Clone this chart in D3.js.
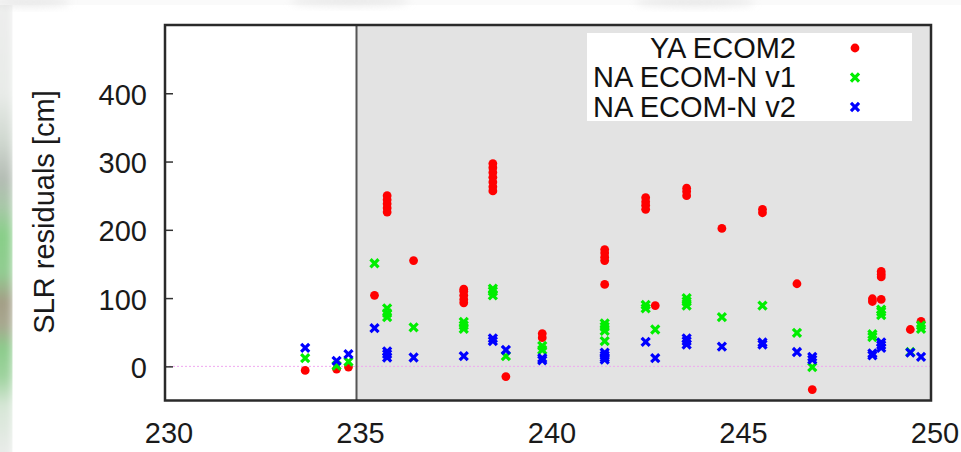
<!DOCTYPE html>
<html>
<head>
<meta charset="utf-8">
<script src="https://cdn.jsdelivr.net/npm/d3@7"></script>
<style>
  html, body { margin: 0; padding: 0; background: #ffffff; }
  svg { display: block; font-family: "Liberation Sans", Arial, Helvetica, sans-serif; }
</style>
</head>
<body>
<svg id="chart" width="961" height="452"></svg>
<script>
// Axis ticks
const xTicks = [230, 235, 240, 245, 250];
const yTicks = [0, 100, 200, 300, 400];

// Series names (legend order)
const seriesNames = ["YA ECOM2", "NA ECOM-N v1", "NA ECOM-N v2"];

// Epoch where the shaded period begins
const shadeStart = 235;

// [epoch, residual in cm]
const yaEcom2 = [
  [233.66, -6], [234.48, -4], [234.79, -1],
  [235.47, 104],
  [235.8, 226], [235.8, 232], [235.8, 238], [235.8, 244], [235.8, 250],
  [236.49, 155],
  [237.8, 93], [237.8, 98], [237.8, 104], [237.8, 110], [237.8, 113],
  [238.56, 257], [238.56, 263], [238.56, 270], [238.56, 277], [238.56, 284], [238.56, 291], [238.56, 297],
  [238.9, -15],
  [239.85, 42], [239.85, 48],
  [241.48, 120], [241.48, 155], [241.48, 160], [241.48, 166], [241.48, 171],
  [242.55, 230], [242.55, 236], [242.55, 241], [242.55, 247],
  [242.8, 89],
  [243.62, 250], [243.62, 256], [243.62, 261],
  [244.54, 202],
  [245.6, 225], [245.6, 230],
  [246.5, 121],
  [246.9, -34],
  [248.47, 95], [248.47, 99],
  [248.7, 98], [248.7, 131], [248.7, 135], [248.7, 139],
  [249.46, 54],
  [249.74, 66]
];

const naEcomNv1 = [
  [233.66, 12], [234.48, 1], [234.79, 7],
  [235.47, 151],
  [235.8, 72], [235.8, 78], [235.8, 85],
  [236.49, 57],
  [237.8, 55], [237.8, 60], [237.8, 65],
  [238.56, 104], [238.56, 110], [238.56, 114],
  [238.9, 15],
  [239.85, 24], [239.85, 30],
  [241.48, 37], [241.48, 52], [241.48, 58], [241.48, 63],
  [242.55, 85], [242.55, 90],
  [242.8, 54],
  [243.62, 89], [243.62, 95], [243.62, 100],
  [244.54, 72],
  [245.6, 89],
  [246.5, 49],
  [246.9, -1],
  [248.47, 43], [248.47, 47],
  [248.7, 75], [248.7, 80], [248.7, 83],
  [249.46, 21],
  [249.74, 55], [249.74, 60]
];

const naEcomNv2 = [
  [233.66, 27], [234.48, 8], [234.79, 18],
  [235.47, 56],
  [235.8, 13], [235.8, 18], [235.8, 22],
  [236.49, 13],
  [237.8, 15],
  [238.56, 37], [238.56, 41],
  [238.9, 24],
  [239.85, 9], [239.85, 12],
  [241.48, 10], [241.48, 13], [241.48, 16], [241.48, 20],
  [242.55, 36],
  [242.8, 12],
  [243.62, 32], [243.62, 37], [243.62, 41],
  [244.54, 29],
  [245.6, 32], [245.6, 35],
  [246.5, 21],
  [246.9, 10], [246.9, 14],
  [248.47, 16], [248.47, 19],
  [248.7, 27], [248.7, 31], [248.7, 35],
  [249.46, 20],
  [249.74, 14]
];

const series = [
  { name: seriesNames[0], data: yaEcom2, color: "#ff0000", shape: "dot" },
  { name: seriesNames[1], data: naEcomNv1, color: "#00ee00", shape: "cross" },
  { name: seriesNames[2], data: naEcomNv2, color: "#0000ff", shape: "cross" }
];

const svg = d3.select("#chart");
const W = 961, H = 452;
const plot = { left: 165, right: 931, top: 25, bottom: 400.5 };

const x = d3.scaleLinear().domain([230, 250]).range([plot.left, plot.right]);
const y = d3.scaleLinear().domain([-50, 500]).range([plot.bottom, plot.top]);

// ---- page backdrop: blurred strip along the left edge and faint smudges on top
const defs = svg.append("defs");
const grad = defs.append("linearGradient").attr("id", "edgeGrad")
  .attr("x1", 0).attr("y1", 0).attr("x2", 0).attr("y2", 1);
[
  [0.00, "#eeeeee"], [0.22, "#e8ebe8"], [0.32, "#d0d8d0"], [0.40, "#b4bcb4"],
  [0.46, "#a8c8a8"], [0.52, "#88cf88"], [0.60, "#92cc92"], [0.66, "#a49e86"],
  [0.71, "#a8a890"], [0.76, "#8ccc8c"], [0.82, "#9fd39f"], [0.88, "#d6e6d6"],
  [1.00, "#ececec"]
].forEach(([o, c]) => grad.append("stop").attr("offset", o).attr("stop-color", c));

defs.append("filter").attr("id", "soft").attr("x", "-50%").attr("y", "-50%")
  .attr("width", "200%").attr("height", "200%")
  .append("feGaussianBlur").attr("stdDeviation", 4);

svg.append("rect").attr("x", 0).attr("y", 0).attr("width", W).attr("height", H).attr("fill", "#ffffff");
svg.append("rect").attr("x", -12).attr("y", -10).attr("width", 25).attr("height", H + 20)
  .attr("fill", "url(#edgeGrad)").attr("filter", "url(#soft)");
svg.append("rect").attr("x", 12.5).attr("y", 5).attr("width", W).attr("height", H)
  .attr("fill", "#ffffff");
svg.append("rect").attr("x", 0).attr("y", 0).attr("width", W).attr("height", 5).attr("fill", "#fafafa");
[[30, 2, 40], [350, 1, 60], [695, 2, 60]].forEach(([cx, cy, rx]) => {
  svg.append("ellipse").attr("cx", cx).attr("cy", cy).attr("rx", rx).attr("ry", 5)
    .attr("fill", "#dcdcdc").attr("opacity", 0.6).attr("filter", "url(#soft)");
});

// ---- plot area
svg.append("rect")
  .attr("x", x(230)).attr("y", y(500))
  .attr("width", x(shadeStart) - x(230)).attr("height", y(-50) - y(500))
  .attr("fill", "#ffffff");
svg.append("rect")
  .attr("x", x(shadeStart)).attr("y", y(500))
  .attr("width", x(250) - x(shadeStart)).attr("height", y(-50) - y(500))
  .attr("fill", "#e3e3e3");

// zero reference line
svg.append("line")
  .attr("x1", x(230)).attr("x2", x(250))
  .attr("y1", y(0)).attr("y2", y(0))
  .attr("stroke", "#f0a8f0").attr("stroke-width", 1)
  .attr("stroke-dasharray", "2,2");

// boundary of shaded period
svg.append("line")
  .attr("x1", x(shadeStart)).attr("x2", x(shadeStart))
  .attr("y1", y(500)).attr("y2", y(-50))
  .attr("stroke", "#555555").attr("stroke-width", 2);

// ---- axes
const fontSize = 29;

const yAxis = svg.append("g")
  .attr("transform", `translate(${plot.left},0)`)
  .call(d3.axisLeft(y).tickValues(yTicks).tickSize(-8).tickPadding(18));
yAxis.select(".domain").remove();
yAxis.selectAll(".tick line").attr("stroke", "#333333").attr("stroke-width", 1.5);
yAxis.selectAll(".tick text")
  .attr("font-size", fontSize).attr("fill", "#1a1a1a")
  .attr("font-family", "Liberation Sans, Arial, sans-serif")
  .attr("dy", "0.38em");

const xAxis = svg.append("g")
  .attr("transform", `translate(0,${plot.bottom})`)
  .call(d3.axisBottom(x).tickValues(xTicks).tickSize(0).tickPadding(22));
xAxis.select(".domain").remove();
xAxis.selectAll(".tick text")
  .attr("font-size", fontSize).attr("fill", "#1a1a1a")
  .attr("font-family", "Liberation Sans, Arial, sans-serif")
  .attr("dx", 3.5);

// axis title
svg.append("text")
  .attr("transform", `translate(54,212) rotate(-90)`)
  .attr("text-anchor", "middle")
  .attr("font-size", fontSize).attr("fill", "#1a1a1a")
  .text("SLR residuals [cm]");

// ---- points
const crossSymbol = d3.symbol().type(d3.symbolTimes).size(44);
const dotRadius = 4.4;
const crossWidth = 3.2;

series.forEach(s => {
  const g = svg.append("g");
  if (s.shape === "dot") {
    g.selectAll("circle").data(s.data).join("circle")
      .attr("cx", d => x(d[0])).attr("cy", d => y(d[1]))
      .attr("r", dotRadius).attr("fill", s.color);
  } else {
    g.selectAll("path").data(s.data).join("path")
      .attr("transform", d => `translate(${x(d[0])},${y(d[1])})`)
      .attr("d", crossSymbol)
      .attr("fill", "none").attr("stroke", s.color).attr("stroke-width", crossWidth);
  }
});

// ---- legend
const legend = svg.append("g");
legend.append("rect")
  .attr("x", 587).attr("y", 33).attr("width", 325).attr("height", 88)
  .attr("fill", "#ffffff");
series.forEach((s, i) => {
  const cy = 47.5 + i * 29.5;
  legend.append("text")
    .attr("x", 796).attr("y", cy + 10)
    .attr("text-anchor", "end")
    .attr("font-size", fontSize).attr("fill", "#111111")
    .text(s.name);
  if (s.shape === "dot") {
    legend.append("circle").attr("cx", 855).attr("cy", cy + 0.5).attr("r", dotRadius).attr("fill", s.color);
  } else {
    legend.append("path")
      .attr("transform", `translate(855,${cy + 0.5})`)
      .attr("d", crossSymbol)
      .attr("fill", "none").attr("stroke", s.color).attr("stroke-width", crossWidth);
  }
});

// ---- frame
svg.append("rect")
  .attr("x", plot.left).attr("y", plot.top)
  .attr("width", plot.right - plot.left).attr("height", plot.bottom - plot.top)
  .attr("fill", "none").attr("stroke", "#2a2a2a").attr("stroke-width", 2.5);
</script>
</body>
</html>
